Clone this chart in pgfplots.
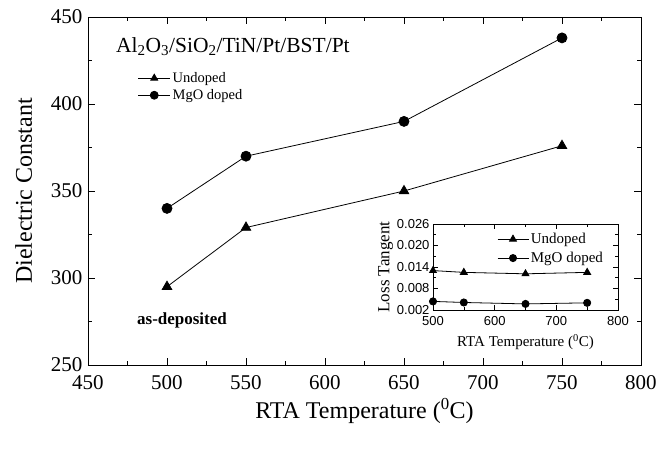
\documentclass[border=0pt]{standalone}
\usepackage{fontspec}
\setmainfont{Liberation Serif}
\newfontfamily\sansf{Liberation Sans}
\usepackage{pgfplots}
\pgfplotsset{compat=1.18}
\begin{document}
\begin{tikzpicture}
\path[use as bounding box] (-88pt,-86pt) rectangle (579pt,365pt);
\begin{axis}[at={(0pt,0pt)},anchor=south west, scale only axis, width=553pt, height=348pt,
 xmin=450,xmax=800,ymin=250,ymax=450,
 xtick={450,500,...,800}, ytick={250,300,...,450},
 minor tick num=1, tick align=inside, major tick length=7pt, minor tick length=4pt,
 axis line style={line width=0.9pt},
 every tick/.style={black, line width=0.6pt},
 tick label style={font=\fontsize{21}{21}\selectfont},
 xticklabel style={yshift=-7pt},
 yticklabel style={xshift=-2pt},
 /pgf/number format/assume math mode=true,
 /pgf/number format/1000 sep={},
 xlabel={RTA Temperature (\textsuperscript{0}C)}, ylabel={Dielectric Constant},
 label style={font=\fontsize{24}{24}\selectfont},
 xlabel style={yshift=-2pt},
 ylabel shift=12pt,
 legend style={at={(0.088,0.85)},anchor=north west, draw=none, fill=none, font=\fontsize{14.5}{16}\selectfont, row sep=1.5pt, inner sep=1pt},
 legend cell align=left,
 legend image code/.code={\draw[mark repeat=2,mark phase=2,#1,mark size=4pt] plot coordinates {(0pt,0pt)(16pt,0pt)(32pt,0pt)};},
]
\addplot[black, line width=0.8pt, mark=triangle*, mark size=5.5pt, mark options={solid}] coordinates {(500,295)(550,329)(650,350)(750,376)};
\addlegendentry{Undoped}
\addplot[black, line width=0.8pt, mark=*, mark size=5pt, mark options={solid}] coordinates {(500,340)(550,370)(650,390)(750,438)};
\addlegendentry{MgO doped}
\node[font=\fontsize{21.5}{22}\selectfont] at (rel axis cs:0.262,0.914) {Al\textsubscript{2}O\textsubscript{3}/SiO\textsubscript{2}/TiN/Pt/BST/Pt};
\node[font=\bfseries\fontsize{17}{17}\selectfont] at (rel axis cs:0.17,0.129) {as-deposited};
\end{axis}
\begin{axis}[at={(345pt,55pt)}, anchor=south west, scale only axis, width=185pt, height=86pt,
 axis background/.style={fill=white},
 xmin=500,xmax=800, ymin=0.002, ymax=0.026,
 xtick={500,600,700,800}, ytick={0.002,0.008,0.014,0.020,0.026},
 minor tick num=1, tick align=inside, major tick length=5pt, minor tick length=3pt,
 axis line style={line width=0.8pt},
 every tick/.style={black, line width=0.6pt},
 tick label style={font=\fontsize{13}{13}\sansf},
 xticklabel style={yshift=-3pt},
 /pgf/number format/assume math mode=true,
 /pgf/number format/1000 sep={},
 scaled y ticks=false,
 yticklabel style={/pgf/number format/.cd, fixed, precision=3, fixed zerofill},
 xlabel={RTA Temperature (\textsuperscript{0}C)}, ylabel={Loss Tangent},
 label style={font=\fontsize{15}{15}\selectfont},
 xlabel style={yshift=-2pt}, ylabel style={font=\fontsize{17}{17}\selectfont, yshift=-3pt},
 legend style={at={(0.34,0.93)},anchor=north west, draw=none, fill=none, font=\fontsize{15}{16}\selectfont, row sep=3pt, inner sep=1pt},
 legend cell align=left,
 legend image code/.code={\draw[mark repeat=2,mark phase=2,#1] plot coordinates {(0pt,0pt)(15.5pt,0pt)(31pt,0pt)};},
]
\addplot[black, line width=0.8pt, mark=triangle*, mark size=4pt, mark options={solid}] coordinates {(500,0.0130)(550,0.0125)(650,0.0121)(750,0.0125)};
\addlegendentry{Undoped}
\addplot[black, line width=0.8pt, mark=*, mark size=3.6pt, mark options={solid}] coordinates {(500,0.0044)(550,0.0041)(650,0.0037)(750,0.0040)};
\addlegendentry{MgO doped}
\end{axis}
\end{tikzpicture}
\end{document}
